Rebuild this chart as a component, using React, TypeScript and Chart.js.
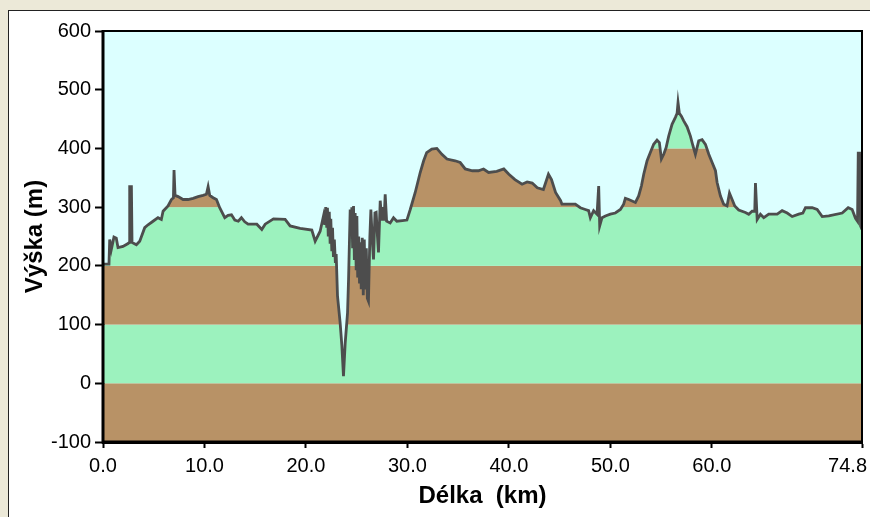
import React, { useEffect, useRef } from "react";
import { Chart, registerables } from "chart.js";

Chart.register(...registerables);

// Distance along route (km)
const distanceKm = [
  0, 0.59, 0.66, 0.82, 1.08, 1.31, 1.48, 1.97, 2.47, 2.6, 2.63, 2.8, 2.86,
  3.29, 3.62, 4.11, 4.44, 4.93, 5.42, 5.75, 5.92, 6.41, 6.74, 6.94, 7.0, 7.1,
  7.4, 7.89, 8.38, 8.88, 9.37, 9.86, 10.19, 10.36, 10.52, 10.85, 11.18, 11.5, 12.0,
  12.33, 12.66, 12.99, 13.33, 13.64, 13.97, 14.3, 15.16, 15.65, 15.98, 16.8, 17.95, 18.44,
  19.43, 20.58, 20.91, 21.4, 21.73, 21.85, 21.95, 22.05, 22.12, 22.2, 22.3, 22.38, 22.45,
  22.55, 22.62, 22.71, 22.8, 22.9, 22.98, 23.11, 23.37, 23.54, 23.7, 23.87, 24.1, 24.2,
  24.36, 24.45, 24.52, 24.6, 24.69, 24.77, 24.85, 24.95, 25.02, 25.1, 25.2, 25.28, 25.35,
  25.45, 25.55, 25.65, 25.75, 25.84, 25.95, 26.05, 26.16, 26.3, 26.4, 26.55, 26.66, 26.8,
  26.92, 27.05, 27.15, 27.32, 27.48, 27.6, 27.7, 27.81, 27.95, 28.3, 28.63, 28.96, 29.5,
  29.95, 30.28, 30.77, 31.26, 31.6, 31.9, 32.4, 32.9, 33.4, 33.9, 34.7, 35.2, 35.7,
  36.4, 37.0, 37.5, 38.0, 38.8, 39.5, 40.0, 40.6, 41.3, 41.8, 42.3, 42.8, 43.4,
  43.9, 44.2, 44.6, 45.1, 45.23, 46.55, 47.04, 47.53, 47.86, 48.03, 48.35, 48.69, 48.85,
  48.95, 49.18, 49.51, 50.0, 50.49, 50.99, 51.31, 51.48, 51.81, 52.47, 52.79, 53.06, 53.29,
  53.62, 53.94, 54.27, 54.6, 54.83, 55.03, 55.26, 55.49, 55.75, 56.08, 56.41, 56.58, 56.67,
  56.8, 57.0, 57.23, 57.56, 57.89, 58.13, 58.38, 58.71, 59.04, 59.37, 59.7, 60.03, 60.36,
  60.52, 60.85, 61.17, 61.5, 61.74, 62.0, 62.26, 62.65, 63.31, 63.64, 63.97, 64.23, 64.3,
  64.47, 64.79, 65.12, 65.61, 66.44, 66.93, 67.43, 67.92, 68.57, 68.97, 69.23, 69.89, 70.38,
  70.88, 71.53, 72.85, 73.44, 73.83, 74.16, 74.36, 74.43, 74.56, 74.66, 74.8,
];

// Elevation (m)
const elevationM = [
  203, 203, 245, 228, 249, 247, 231, 233, 238, 240, 335, 335, 240,
  236, 242, 265, 270, 276, 282, 279, 293, 302, 313, 316, 363, 320,
  318, 313, 313, 315, 318, 320, 322, 335, 320, 316, 313, 299, 282,
  286, 287, 278, 276, 282, 275, 271, 271, 262, 271, 280, 279, 268,
  264, 261, 242, 259, 285, 270, 300, 265, 299, 250, 292, 240, 280,
  225, 265, 215, 245, 205, 220, 149, 103, 64, 12, 69, 120, 177,
  296, 260, 300, 230, 302, 210, 290, 195, 285, 180, 250, 170, 240,
  160, 248, 150, 245, 160, 230, 145, 140, 250, 296, 240, 211, 290,
  291, 250, 223, 311, 277, 300, 277, 322, 276, 273, 282, 276, 277,
  278, 296, 325, 359, 379, 393, 399, 400, 390, 382, 379, 376, 365,
  362, 362, 365, 359, 361, 365, 356, 347, 339, 343, 341, 333, 330,
  356, 347, 325, 311, 305, 305, 299, 296, 294, 282, 294, 288, 336,
  268, 282, 285, 288, 290, 296, 305, 315, 313, 308, 319, 336, 356,
  379, 393, 407, 414, 410, 382, 390, 401, 421, 441, 453, 460, 478,
  460, 455, 447, 437, 421, 405, 390, 413, 415, 407, 390, 376, 362,
  342, 319, 305, 302, 324, 313, 302, 295, 291, 288, 293, 293, 341,
  279, 288, 282, 288, 288, 294, 290, 284, 288, 290, 299, 299, 296,
  284, 285, 290, 299, 296, 281, 276, 392, 392, 268, 262,
];

const xTicks = [0, 10, 20, 30, 40, 50, 60, 74.8];
const yMin = -100;
const yMax = 600;
const yStep = 100;

// Elevation bands (m) and their colours
const bandEdges = [-100, 0, 100, 200, 300, 400, 500, 600];
const bandColors = ["#B89266", "#9CF2BE", "#B89266", "#9CF2BE", "#B89266", "#9CF2BE", "#B89266"];

const skyColor = "#DCFFFF";
const lineColor = "#4D4D4D";
const fontFamily = "'Liberation Sans', Arial, sans-serif";

const bandsPlugin = {
  id: "bands",
  beforeDatasetsDraw(chart: any) {
    const { ctx, chartArea, scales } = chart;
    const y = scales.y;
    ctx.save();
    for (let i = 0; i < bandEdges.length - 1; i++) {
      const yTop = y.getPixelForValue(bandEdges[i + 1]);
      const yBot = y.getPixelForValue(bandEdges[i]);
      ctx.fillStyle = bandColors[i];
      ctx.fillRect(chartArea.left, yTop, chartArea.right - chartArea.left, yBot - yTop);
    }
    ctx.restore();
  },
};

const framePlugin = {
  id: "frame",
  afterDraw(chart: any) {
    const { ctx, chartArea, scales, width } = chart;
    ctx.save();
    ctx.strokeStyle = "#000";
    ctx.lineWidth = 2;
    ctx.beginPath();
    ctx.moveTo(chartArea.left, chartArea.top);
    ctx.lineTo(chartArea.right, chartArea.top);
    ctx.lineTo(chartArea.right, chartArea.bottom);
    ctx.stroke();
    ctx.lineWidth = 3;
    ctx.beginPath();
    ctx.moveTo(chartArea.left, chartArea.top - 1);
    ctx.lineTo(chartArea.left, chartArea.bottom);
    ctx.lineTo(chartArea.right + 1, chartArea.bottom);
    ctx.stroke();

    // x tick labels (last one kept inside the window)
    ctx.fillStyle = "#000";
    ctx.font = `20px ${fontFamily}`;
    ctx.textBaseline = "middle";
    const ly = chartArea.bottom + 24;
    xTicks.forEach((v, i) => {
      const px = scales.x.getPixelForValue(v);
      const label = v.toFixed(1);
      const w = ctx.measureText(label).width;
      if (px + w / 2 > width - 3) {
        ctx.textAlign = "right";
        ctx.fillText(label, width - 3, ly);
      } else {
        ctx.textAlign = "center";
        ctx.fillText(label, px, ly);
      }
    });
    ctx.restore();
  },
};

export default function App() {
  const ref = useRef<HTMLCanvasElement | null>(null);

  useEffect(() => {
    if (!ref.current) return;
    const points = distanceKm.map((d, i) => ({ x: d, y: elevationM[i] }));
    const tickFont = { family: fontFamily, size: 20 };
    const titleFont = { family: fontFamily, size: 24, weight: "bold" as const };
    const chart = new Chart(ref.current, {
      type: "line",
      data: {
        datasets: [
          {
            data: points,
            borderColor: lineColor,
            borderWidth: 2.8,
            backgroundColor: skyColor,
            fill: "end",
            pointRadius: 0,
            tension: 0,
          },
        ],
      },
      options: {
        animation: false,
        responsive: false,
        maintainAspectRatio: false,
        layout: { padding: { top: 31, right: 8, left: 0, bottom: 0 } },
        plugins: { legend: { display: false }, tooltip: { enabled: false } },
        scales: {
          x: {
            type: "linear",
            min: 0,
            max: 74.8,
            afterBuildTicks: (s: any) => {
              s.ticks = xTicks.map((v) => ({ value: v }));
            },
            afterFit: (s: any) => {
              s.height = 75;
              s.paddingLeft = 0;
              s.paddingRight = 0;
            },
            ticks: {
              display: false,
              autoSkip: false,
              maxRotation: 0,
              callback: (v: any) => Number(v).toFixed(1),
            },
            grid: { drawOnChartArea: false, drawTicks: true, tickLength: 6, tickWidth: 2, tickColor: "#000" },
            border: { display: true, color: "#000", width: 3 },
            title: {
              display: true,
              text: "Délka  (km)",
              color: "#000",
              font: titleFont,
              padding: { top: 0, bottom: 6 },
            },
          },
          y: {
            type: "linear",
            min: yMin,
            max: yMax,
            afterFit: (s: any) => {
              s.width = 103;
            },
            ticks: { stepSize: yStep, color: "#000", font: tickFont, padding: 4 },
            grid: { drawOnChartArea: false, drawTicks: true, tickLength: 8, tickWidth: 2, tickColor: "#000" },
            border: { display: true, color: "#000", width: 3 },
            title: {
              display: true,
              text: "Výška (m)",
              color: "#000",
              font: titleFont,
              padding: { top: 21, bottom: 0 },
            },
          },
        },
      },
      plugins: [bandsPlugin, framePlugin],
    });
    return () => chart.destroy();
  }, []);

  return (
    <div style={{ position: "fixed", left: 0, top: 0, width: 870, height: 517, background: "#ECE9D8", overflow: "hidden" }}>
      <div
        style={{
          position: "absolute",
          left: 8,
          top: 10,
          width: 880,
          height: 520,
          background: "#fff",
          borderLeft: "1px solid #222",
          borderTop: "1px solid #222",
        }}
      />
      <canvas ref={ref} width={870} height={517} style={{ position: "absolute", left: 0, top: 0, width: 870, height: 517 }} />
    </div>
  );
}
